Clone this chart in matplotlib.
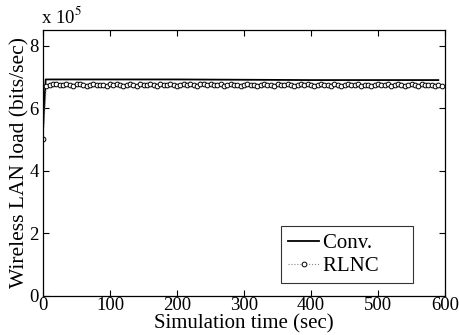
import matplotlib
matplotlib.use("Agg", force=True)
import matplotlib.pyplot as plt
import numpy as np

plt.rcParams['font.family'] = ['Liberation Serif', 'DejaVu Serif']
plt.rcParams['mathtext.fontset'] = 'stix'

# Conv. load (x 1e5 bits/sec)
conv_t = [0, 4, 100, 200, 300, 400, 500, 590]
conv_v = [5.3, 6.92, 6.92, 6.92, 6.91, 6.90, 6.90, 6.90]

# RLNC load, sampled every 5 sec (x 1e5 bits/sec)
rlnc_t = list(range(0, 600, 5))
rlnc_v = [5.02, 6.72, 6.74, 6.76, 6.78, 6.75, 6.73, 6.77, 6.74, 6.72,
          6.76, 6.78, 6.74, 6.71, 6.75, 6.77, 6.73, 6.75, 6.74, 6.72,
          6.76, 6.74, 6.77, 6.73, 6.71, 6.75, 6.78, 6.74, 6.72, 6.76,
          6.73, 6.75, 6.77, 6.74, 6.72, 6.76, 6.75, 6.73, 6.77, 6.74,
          6.71, 6.75, 6.78, 6.73, 6.76, 6.74, 6.72, 6.77, 6.79, 6.74,
          6.76, 6.73, 6.75, 6.77, 6.71, 6.74, 6.76, 6.73, 6.75, 6.72,
          6.74, 6.77, 6.73, 6.75, 6.71, 6.74, 6.76, 6.73, 6.75, 6.72,
          6.76, 6.74, 6.73, 6.77, 6.75, 6.72, 6.74, 6.76, 6.73, 6.77,
          6.74, 6.72, 6.75, 6.78, 6.73, 6.75, 6.72, 6.76, 6.74, 6.71,
          6.75, 6.77, 6.73, 6.74, 6.76, 6.72, 6.75, 6.73, 6.71, 6.74,
          6.76, 6.73, 6.75, 6.77, 6.72, 6.74, 6.76, 6.73, 6.71, 6.75,
          6.77, 6.74, 6.72, 6.76, 6.73, 6.75, 6.74, 6.72, 6.75, 6.71]

fig = plt.figure(figsize=(4.59, 3.35), dpi=100)
ax = fig.add_axes([43/459, 1-296/335, (445-43)/459, (296-30)/335])

ax.plot(conv_t, np.array(conv_v) * 1e5, color='black', lw=1.3, label='Conv.     ')
ax.plot(rlnc_t, np.array(rlnc_v) * 1e5, color='#888888', ls=':', lw=0.8,
        marker='o', ms=3.4, mfc='white', mec='black', mew=0.7, label='RLNC     ')

ax.set_xlim(0, 600)
ax.set_ylim(0, 8.5e5)
ax.set_xticks([0, 100, 200, 300, 400, 500, 600])
ax.set_yticks([0, 2e5, 4e5, 6e5, 8e5])
ax.set_yticklabels(['0', '2', '4', '6', '8'])
ax.tick_params(direction='in', top=True, right=True, labelsize=13.5, length=4, pad=1)
ax.tick_params(axis='y', pad=3)
for s in ax.spines.values():
    s.set_linewidth(0.9)

ax.text(-0.005, 1.01, 'x 10$^5$', transform=ax.transAxes, fontsize=13.5,
        ha='left', va='bottom')
ax.set_xlabel('Simulation time (sec)', fontsize=15, labelpad=0)
ax.set_ylabel('Wireless LAN load (bits/sec)', fontsize=15.5, labelpad=0)

leg = ax.legend(loc='lower right', bbox_to_anchor=(0.935, 0.025), fontsize=15,
                frameon=True, fancybox=False, edgecolor='black',
                handlelength=1.5, handletextpad=0.2, borderpad=0.35,
                labelspacing=0.15, borderaxespad=0.3)
leg.get_frame().set_linewidth(0.8)

fig.savefig('out.png', dpi=100)
plt.close(fig)
